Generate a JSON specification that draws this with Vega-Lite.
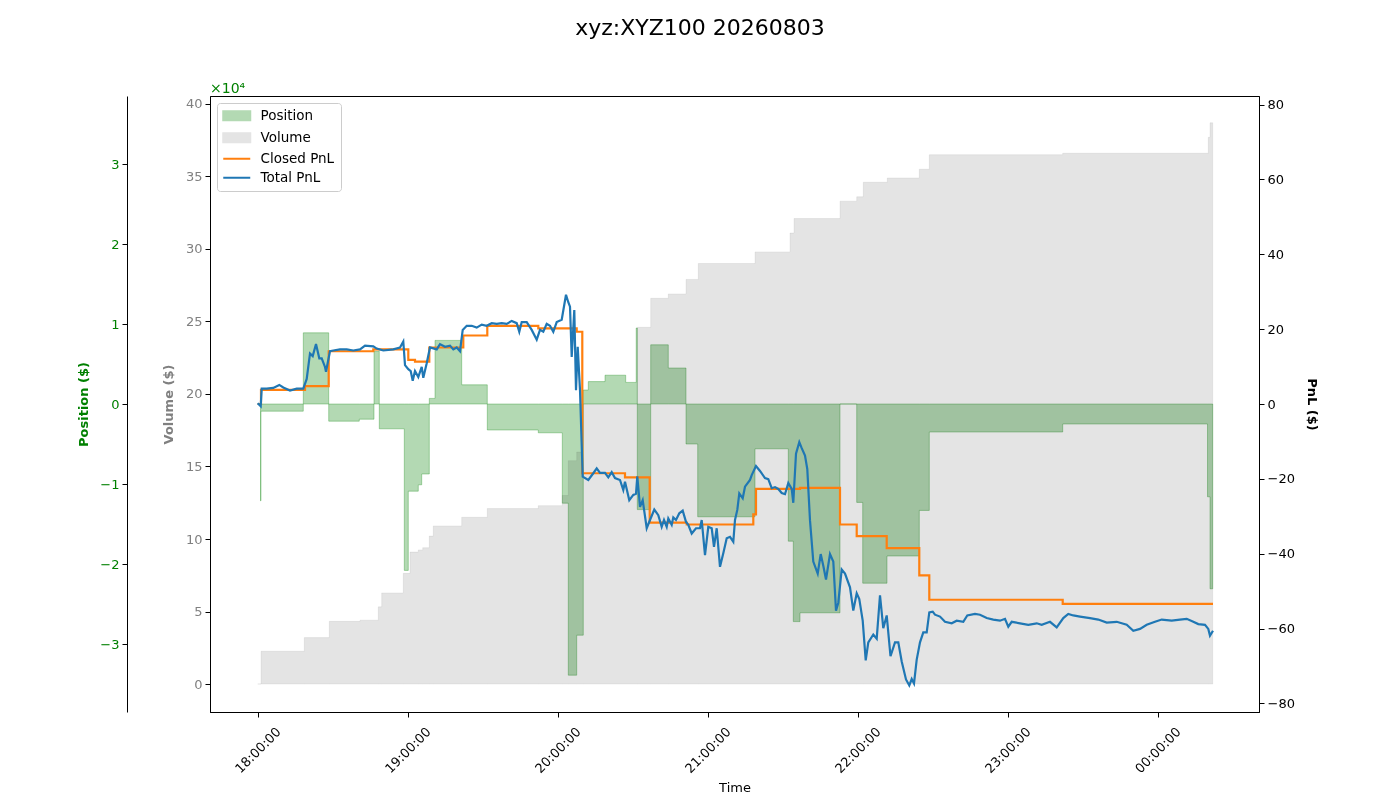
{
  "$schema": "https://vega.github.io/schema/vega-lite/v6.json",
  "width": 1049,
  "height": 616,
  "autosize": {"type": "none"},
  "padding": {"left": 210, "top": 96, "right": 141, "bottom": 88},
  "title": {"text": "xyz:XYZ100 20260803", "fontSize": 22, "font": "DejaVu Sans", "fontWeight": "normal", "anchor": "middle", "frame": "group", "offset": 25, "baseline": "alphabetic", "dx": -34.5, "color": "#000000"},
  "config": {
    "font": "DejaVu Sans",
    "view": {"stroke": "#000000", "strokeWidth": 1},
    "axis": {"grid": false, "domainColor": "#000000", "tickColor": "#000000", "tickSize": 5, "labelFontSize": 13, "titleFontSize": 13, "labelColor": "#000000", "titleColor": "#000000", "labelPadding": 3, "labelFont": "DejaVu Sans", "titleFont": "DejaVu Sans"}
  },
  "datasets": {
    "position": [
      {"time": "2026-08-03T18:00:00", "position": 0},
      {"time": "2026-08-03T18:01:07", "position": -12100},
      {"time": "2026-08-03T18:01:19", "position": -900},
      {"time": "2026-08-03T18:18:14", "position": 8900},
      {"time": "2026-08-03T18:28:24", "position": -2150},
      {"time": "2026-08-03T18:40:38", "position": -1900},
      {"time": "2026-08-03T18:46:31", "position": 6600},
      {"time": "2026-08-03T18:48:38", "position": -3100},
      {"time": "2026-08-03T18:58:38", "position": -20800},
      {"time": "2026-08-03T19:00:14", "position": -10900},
      {"time": "2026-08-03T19:04:14", "position": -10100},
      {"time": "2026-08-03T19:05:36", "position": -8750},
      {"time": "2026-08-03T19:08:38", "position": 700},
      {"time": "2026-08-03T19:10:55", "position": 7950},
      {"time": "2026-08-03T19:21:36", "position": 2400},
      {"time": "2026-08-03T19:31:50", "position": -3250},
      {"time": "2026-08-03T19:52:14", "position": -3600},
      {"time": "2026-08-03T20:01:50", "position": -12400},
      {"time": "2026-08-03T20:04:14", "position": -33900},
      {"time": "2026-08-03T20:07:36", "position": -28900},
      {"time": "2026-08-03T20:10:14", "position": 1750},
      {"time": "2026-08-03T20:12:14", "position": 2800},
      {"time": "2026-08-03T20:18:55", "position": 3600},
      {"time": "2026-08-03T20:27:12", "position": 2700},
      {"time": "2026-08-03T20:31:24", "position": 9500},
      {"time": "2026-08-03T20:31:50", "position": -13200},
      {"time": "2026-08-03T20:37:12", "position": 7400},
      {"time": "2026-08-03T20:44:14", "position": 4500},
      {"time": "2026-08-03T20:51:19", "position": -5000},
      {"time": "2026-08-03T20:56:00", "position": -14100},
      {"time": "2026-08-03T21:18:55", "position": -5600},
      {"time": "2026-08-03T21:32:14", "position": -17150},
      {"time": "2026-08-03T21:34:14", "position": -27200},
      {"time": "2026-08-03T21:36:55", "position": -26100},
      {"time": "2026-08-03T21:52:55", "position": 0},
      {"time": "2026-08-03T21:59:36", "position": -12300},
      {"time": "2026-08-03T22:02:00", "position": -22400},
      {"time": "2026-08-03T22:11:43", "position": -19000},
      {"time": "2026-08-03T22:24:38", "position": -13300},
      {"time": "2026-08-03T22:28:38", "position": -3500},
      {"time": "2026-08-03T23:22:00", "position": -2500},
      {"time": "2026-08-04T00:19:55", "position": -11600},
      {"time": "2026-08-04T00:20:55", "position": -23100},
      {"time": "2026-08-04T00:22:00", "position": -23100}
    ],
    "volume": [
      {"time": "2026-08-03T18:00:00", "volume": 0},
      {"time": "2026-08-03T18:01:19", "volume": 2.26},
      {"time": "2026-08-03T18:18:38", "volume": 3.2},
      {"time": "2026-08-03T18:28:38", "volume": 4.32},
      {"time": "2026-08-03T18:40:55", "volume": 4.4},
      {"time": "2026-08-03T18:48:14", "volume": 5.32},
      {"time": "2026-08-03T18:49:36", "volume": 6.28},
      {"time": "2026-08-03T18:58:14", "volume": 7.63},
      {"time": "2026-08-03T19:00:55", "volume": 9.1},
      {"time": "2026-08-03T19:04:14", "volume": 9.25},
      {"time": "2026-08-03T19:06:00", "volume": 9.4},
      {"time": "2026-08-03T19:08:38", "volume": 10.2},
      {"time": "2026-08-03T19:10:14", "volume": 10.9},
      {"time": "2026-08-03T19:21:36", "volume": 11.5},
      {"time": "2026-08-03T19:31:50", "volume": 12.1},
      {"time": "2026-08-03T19:52:14", "volume": 12.3},
      {"time": "2026-08-03T20:01:50", "volume": 13.0},
      {"time": "2026-08-03T20:04:14", "volume": 15.4},
      {"time": "2026-08-03T20:07:36", "volume": 16.0},
      {"time": "2026-08-03T20:10:14", "volume": 19.3},
      {"time": "2026-08-03T20:31:50", "volume": 24.6},
      {"time": "2026-08-03T20:37:12", "volume": 26.6},
      {"time": "2026-08-03T20:44:14", "volume": 26.9},
      {"time": "2026-08-03T20:51:19", "volume": 27.9},
      {"time": "2026-08-03T20:56:14", "volume": 29.0},
      {"time": "2026-08-03T21:18:55", "volume": 29.8},
      {"time": "2026-08-03T21:32:55", "volume": 31.1},
      {"time": "2026-08-03T21:34:31", "volume": 32.1},
      {"time": "2026-08-03T21:52:55", "volume": 33.3},
      {"time": "2026-08-03T21:59:36", "volume": 33.6},
      {"time": "2026-08-03T22:02:14", "volume": 34.6},
      {"time": "2026-08-03T22:11:50", "volume": 34.9},
      {"time": "2026-08-03T22:24:38", "volume": 35.5},
      {"time": "2026-08-03T22:28:38", "volume": 36.5},
      {"time": "2026-08-03T23:22:00", "volume": 36.6},
      {"time": "2026-08-04T00:20:14", "volume": 37.7},
      {"time": "2026-08-04T00:20:55", "volume": 38.7},
      {"time": "2026-08-04T00:22:00", "volume": 38.7}
    ],
    "closed": [
      {"time": "2026-08-03T18:00:00", "pnl": 0},
      {"time": "2026-08-03T18:01:19", "pnl": 3.8},
      {"time": "2026-08-03T18:18:55", "pnl": 4.8},
      {"time": "2026-08-03T18:28:24", "pnl": 14.1},
      {"time": "2026-08-03T18:46:14", "pnl": 14.6},
      {"time": "2026-08-03T19:00:14", "pnl": 11.8},
      {"time": "2026-08-03T19:02:55", "pnl": 11.3},
      {"time": "2026-08-03T19:08:38", "pnl": 15.1},
      {"time": "2026-08-03T19:22:14", "pnl": 18.3},
      {"time": "2026-08-03T19:31:50", "pnl": 20.9},
      {"time": "2026-08-03T19:52:14", "pnl": 20.2},
      {"time": "2026-08-03T20:07:36", "pnl": 19.3},
      {"time": "2026-08-03T20:09:50", "pnl": -18.5},
      {"time": "2026-08-03T20:26:55", "pnl": -19.6},
      {"time": "2026-08-03T20:36:48", "pnl": -31.7},
      {"time": "2026-08-03T20:51:36", "pnl": -32.2},
      {"time": "2026-08-03T21:18:14", "pnl": -29.5},
      {"time": "2026-08-03T21:19:19", "pnl": -22.7},
      {"time": "2026-08-03T21:36:55", "pnl": -22.4},
      {"time": "2026-08-03T21:52:55", "pnl": -32.2},
      {"time": "2026-08-03T21:59:36", "pnl": -35.3},
      {"time": "2026-08-03T22:11:36", "pnl": -38.5},
      {"time": "2026-08-03T22:24:38", "pnl": -45.8},
      {"time": "2026-08-03T22:28:38", "pnl": -52.3},
      {"time": "2026-08-03T23:22:00", "pnl": -53.4},
      {"time": "2026-08-04T00:22:07", "pnl": -53.4}
    ],
    "total": [
      {"time": "2026-08-03T18:00:00", "pnl": 0.2},
      {"time": "2026-08-03T18:01:12", "pnl": -0.6},
      {"time": "2026-08-03T18:01:36", "pnl": 4.1},
      {"time": "2026-08-03T18:03:36", "pnl": 4.1},
      {"time": "2026-08-03T18:06:14", "pnl": 4.3},
      {"time": "2026-08-03T18:08:38", "pnl": 5.1},
      {"time": "2026-08-03T18:10:14", "pnl": 4.4},
      {"time": "2026-08-03T18:12:55", "pnl": 3.6},
      {"time": "2026-08-03T18:15:36", "pnl": 4.1},
      {"time": "2026-08-03T18:18:14", "pnl": 4.1},
      {"time": "2026-08-03T18:19:36", "pnl": 6.7},
      {"time": "2026-08-03T18:20:55", "pnl": 13.5},
      {"time": "2026-08-03T18:22:00", "pnl": 12.8},
      {"time": "2026-08-03T18:23:19", "pnl": 16.0},
      {"time": "2026-08-03T18:24:38", "pnl": 12.2},
      {"time": "2026-08-03T18:25:36", "pnl": 12.2},
      {"time": "2026-08-03T18:26:55", "pnl": 9.9},
      {"time": "2026-08-03T18:27:19", "pnl": 8.6},
      {"time": "2026-08-03T18:27:50", "pnl": 10.4},
      {"time": "2026-08-03T18:28:55", "pnl": 14.1},
      {"time": "2026-08-03T18:30:14", "pnl": 14.3},
      {"time": "2026-08-03T18:32:55", "pnl": 14.6},
      {"time": "2026-08-03T18:35:36", "pnl": 14.6},
      {"time": "2026-08-03T18:38:14", "pnl": 14.3},
      {"time": "2026-08-03T18:40:55", "pnl": 14.6},
      {"time": "2026-08-03T18:42:55", "pnl": 15.6},
      {"time": "2026-08-03T18:46:14", "pnl": 15.4},
      {"time": "2026-08-03T18:47:36", "pnl": 14.8},
      {"time": "2026-08-03T18:50:14", "pnl": 14.3},
      {"time": "2026-08-03T18:54:14", "pnl": 14.6},
      {"time": "2026-08-03T18:56:55", "pnl": 15.1},
      {"time": "2026-08-03T18:58:14", "pnl": 16.7},
      {"time": "2026-08-03T18:58:55", "pnl": 10.4},
      {"time": "2026-08-03T19:00:14", "pnl": 9.3},
      {"time": "2026-08-03T19:01:12", "pnl": 8.8},
      {"time": "2026-08-03T19:02:00", "pnl": 6.2},
      {"time": "2026-08-03T19:02:55", "pnl": 8.8},
      {"time": "2026-08-03T19:04:14", "pnl": 7.2},
      {"time": "2026-08-03T19:05:36", "pnl": 9.9},
      {"time": "2026-08-03T19:06:14", "pnl": 7.0},
      {"time": "2026-08-03T19:07:36", "pnl": 10.9},
      {"time": "2026-08-03T19:08:55", "pnl": 15.1},
      {"time": "2026-08-03T19:11:36", "pnl": 14.6},
      {"time": "2026-08-03T19:12:55", "pnl": 16.0},
      {"time": "2026-08-03T19:14:55", "pnl": 15.3},
      {"time": "2026-08-03T19:16:55", "pnl": 15.6},
      {"time": "2026-08-03T19:18:14", "pnl": 14.6},
      {"time": "2026-08-03T19:19:36", "pnl": 15.1},
      {"time": "2026-08-03T19:20:55", "pnl": 14.1},
      {"time": "2026-08-03T19:22:00", "pnl": 19.8},
      {"time": "2026-08-03T19:23:36", "pnl": 20.9},
      {"time": "2026-08-03T19:25:36", "pnl": 20.9},
      {"time": "2026-08-03T19:27:36", "pnl": 20.4},
      {"time": "2026-08-03T19:29:36", "pnl": 21.2},
      {"time": "2026-08-03T19:31:36", "pnl": 20.9},
      {"time": "2026-08-03T19:33:36", "pnl": 21.6},
      {"time": "2026-08-03T19:35:36", "pnl": 21.4},
      {"time": "2026-08-03T19:37:36", "pnl": 21.6},
      {"time": "2026-08-03T19:39:36", "pnl": 21.4},
      {"time": "2026-08-03T19:41:36", "pnl": 22.2},
      {"time": "2026-08-03T19:43:36", "pnl": 21.6},
      {"time": "2026-08-03T19:44:38", "pnl": 19.3},
      {"time": "2026-08-03T19:45:36", "pnl": 21.9},
      {"time": "2026-08-03T19:47:36", "pnl": 21.9},
      {"time": "2026-08-03T19:49:36", "pnl": 19.8},
      {"time": "2026-08-03T19:51:36", "pnl": 17.2},
      {"time": "2026-08-03T19:52:55", "pnl": 19.8},
      {"time": "2026-08-03T19:54:14", "pnl": 19.3},
      {"time": "2026-08-03T19:55:36", "pnl": 21.4},
      {"time": "2026-08-03T19:56:55", "pnl": 20.9},
      {"time": "2026-08-03T19:58:14", "pnl": 19.3},
      {"time": "2026-08-03T19:59:36", "pnl": 21.9},
      {"time": "2026-08-03T20:01:36", "pnl": 22.5},
      {"time": "2026-08-03T20:03:19", "pnl": 29.2},
      {"time": "2026-08-03T20:04:14", "pnl": 27.2},
      {"time": "2026-08-03T20:04:55", "pnl": 26.0},
      {"time": "2026-08-03T20:05:36", "pnl": 12.6},
      {"time": "2026-08-03T20:06:38", "pnl": 25.1},
      {"time": "2026-08-03T20:07:19", "pnl": 3.7},
      {"time": "2026-08-03T20:08:00", "pnl": 15.3},
      {"time": "2026-08-03T20:08:55", "pnl": 3.7},
      {"time": "2026-08-03T20:10:00", "pnl": -19.4},
      {"time": "2026-08-03T20:12:14", "pnl": -20.3},
      {"time": "2026-08-03T20:14:14", "pnl": -18.5},
      {"time": "2026-08-03T20:15:36", "pnl": -17.2},
      {"time": "2026-08-03T20:16:55", "pnl": -18.4},
      {"time": "2026-08-03T20:18:55", "pnl": -18.4},
      {"time": "2026-08-03T20:20:14", "pnl": -19.6},
      {"time": "2026-08-03T20:21:36", "pnl": -18.2},
      {"time": "2026-08-03T20:22:55", "pnl": -19.8},
      {"time": "2026-08-03T20:24:55", "pnl": -20.3},
      {"time": "2026-08-03T20:26:14", "pnl": -23.0},
      {"time": "2026-08-03T20:26:55", "pnl": -20.8},
      {"time": "2026-08-03T20:28:38", "pnl": -25.7},
      {"time": "2026-08-03T20:30:14", "pnl": -24.3},
      {"time": "2026-08-03T20:31:19", "pnl": -24.0},
      {"time": "2026-08-03T20:31:50", "pnl": -19.3},
      {"time": "2026-08-03T20:32:55", "pnl": -27.5},
      {"time": "2026-08-03T20:34:00", "pnl": -25.7},
      {"time": "2026-08-03T20:35:36", "pnl": -33.2},
      {"time": "2026-08-03T20:36:55", "pnl": -31.0},
      {"time": "2026-08-03T20:38:38", "pnl": -28.2},
      {"time": "2026-08-03T20:40:14", "pnl": -29.7},
      {"time": "2026-08-03T20:41:36", "pnl": -32.8},
      {"time": "2026-08-03T20:42:31", "pnl": -31.0},
      {"time": "2026-08-03T20:43:36", "pnl": -32.8},
      {"time": "2026-08-03T20:44:14", "pnl": -30.6},
      {"time": "2026-08-03T20:45:36", "pnl": -32.3},
      {"time": "2026-08-03T20:46:14", "pnl": -30.3},
      {"time": "2026-08-03T20:47:19", "pnl": -31.0},
      {"time": "2026-08-03T20:48:38", "pnl": -29.2},
      {"time": "2026-08-03T20:50:00", "pnl": -28.5},
      {"time": "2026-08-03T20:51:19", "pnl": -31.5},
      {"time": "2026-08-03T20:52:14", "pnl": -32.3},
      {"time": "2026-08-03T20:53:36", "pnl": -34.6},
      {"time": "2026-08-03T20:55:19", "pnl": -33.2},
      {"time": "2026-08-03T20:56:55", "pnl": -33.2},
      {"time": "2026-08-03T20:57:36", "pnl": -31.0},
      {"time": "2026-08-03T20:58:55", "pnl": -40.4},
      {"time": "2026-08-03T21:00:14", "pnl": -32.8},
      {"time": "2026-08-03T21:01:36", "pnl": -33.2},
      {"time": "2026-08-03T21:02:31", "pnl": -38.2},
      {"time": "2026-08-03T21:03:36", "pnl": -33.2},
      {"time": "2026-08-03T21:04:55", "pnl": -43.5},
      {"time": "2026-08-03T21:06:14", "pnl": -39.9},
      {"time": "2026-08-03T21:07:36", "pnl": -35.9},
      {"time": "2026-08-03T21:08:55", "pnl": -35.5},
      {"time": "2026-08-03T21:10:14", "pnl": -36.8},
      {"time": "2026-08-03T21:10:55", "pnl": -31.0},
      {"time": "2026-08-03T21:11:50", "pnl": -28.3},
      {"time": "2026-08-03T21:12:38", "pnl": -23.9},
      {"time": "2026-08-03T21:14:00", "pnl": -25.2},
      {"time": "2026-08-03T21:14:55", "pnl": -22.1},
      {"time": "2026-08-03T21:16:55", "pnl": -20.3},
      {"time": "2026-08-03T21:17:36", "pnl": -19.0},
      {"time": "2026-08-03T21:19:19", "pnl": -16.6},
      {"time": "2026-08-03T21:20:55", "pnl": -17.9},
      {"time": "2026-08-03T21:22:55", "pnl": -19.8},
      {"time": "2026-08-03T21:24:14", "pnl": -20.1},
      {"time": "2026-08-03T21:25:36", "pnl": -22.5},
      {"time": "2026-08-03T21:26:55", "pnl": -22.2},
      {"time": "2026-08-03T21:28:14", "pnl": -22.7},
      {"time": "2026-08-03T21:29:36", "pnl": -23.8},
      {"time": "2026-08-03T21:30:55", "pnl": -24.1},
      {"time": "2026-08-03T21:32:14", "pnl": -21.1},
      {"time": "2026-08-03T21:33:36", "pnl": -22.7},
      {"time": "2026-08-03T21:34:14", "pnl": -26.4},
      {"time": "2026-08-03T21:35:19", "pnl": -13.3},
      {"time": "2026-08-03T21:36:38", "pnl": -10.2},
      {"time": "2026-08-03T21:37:36", "pnl": -11.8},
      {"time": "2026-08-03T21:38:55", "pnl": -13.8},
      {"time": "2026-08-03T21:39:50", "pnl": -17.4},
      {"time": "2026-08-03T21:40:55", "pnl": -31.1},
      {"time": "2026-08-03T21:42:14", "pnl": -42.1},
      {"time": "2026-08-03T21:44:00", "pnl": -45.3},
      {"time": "2026-08-03T21:45:12", "pnl": -40.1},
      {"time": "2026-08-03T21:46:14", "pnl": -43.2},
      {"time": "2026-08-03T21:47:19", "pnl": -46.9},
      {"time": "2026-08-03T21:48:55", "pnl": -40.1},
      {"time": "2026-08-03T21:50:14", "pnl": -42.1},
      {"time": "2026-08-03T21:51:19", "pnl": -55.2},
      {"time": "2026-08-03T21:52:14", "pnl": -53.1},
      {"time": "2026-08-03T21:53:36", "pnl": -44.2},
      {"time": "2026-08-03T21:54:55", "pnl": -45.3},
      {"time": "2026-08-03T21:56:55", "pnl": -49.0},
      {"time": "2026-08-03T21:58:14", "pnl": -55.2},
      {"time": "2026-08-03T21:59:36", "pnl": -50.6},
      {"time": "2026-08-03T22:00:38", "pnl": -52.1},
      {"time": "2026-08-03T22:02:00", "pnl": -57.9},
      {"time": "2026-08-03T22:03:12", "pnl": -68.5},
      {"time": "2026-08-03T22:04:14", "pnl": -63.7},
      {"time": "2026-08-03T22:06:14", "pnl": -61.6},
      {"time": "2026-08-03T22:07:36", "pnl": -62.7},
      {"time": "2026-08-03T22:08:55", "pnl": -51.1},
      {"time": "2026-08-03T22:10:14", "pnl": -59.9},
      {"time": "2026-08-03T22:11:36", "pnl": -56.5},
      {"time": "2026-08-03T22:13:07", "pnl": -67.4},
      {"time": "2026-08-03T22:14:55", "pnl": -63.7},
      {"time": "2026-08-03T22:16:14", "pnl": -63.7},
      {"time": "2026-08-03T22:17:36", "pnl": -68.8},
      {"time": "2026-08-03T22:19:19", "pnl": -73.6},
      {"time": "2026-08-03T22:20:38", "pnl": -75.2},
      {"time": "2026-08-03T22:21:36", "pnl": -73.5},
      {"time": "2026-08-03T22:22:31", "pnl": -74.7},
      {"time": "2026-08-03T22:23:36", "pnl": -68.3},
      {"time": "2026-08-03T22:24:55", "pnl": -63.7},
      {"time": "2026-08-03T22:26:14", "pnl": -61.0},
      {"time": "2026-08-03T22:27:36", "pnl": -61.0},
      {"time": "2026-08-03T22:28:38", "pnl": -55.7},
      {"time": "2026-08-03T22:30:00", "pnl": -55.5},
      {"time": "2026-08-03T22:30:55", "pnl": -56.3},
      {"time": "2026-08-03T22:32:55", "pnl": -56.8},
      {"time": "2026-08-03T22:34:55", "pnl": -58.2},
      {"time": "2026-08-03T22:37:36", "pnl": -58.6},
      {"time": "2026-08-03T22:39:36", "pnl": -57.9},
      {"time": "2026-08-03T22:42:14", "pnl": -58.2},
      {"time": "2026-08-03T22:43:50", "pnl": -56.5},
      {"time": "2026-08-03T22:46:55", "pnl": -56.1},
      {"time": "2026-08-03T22:48:55", "pnl": -56.3},
      {"time": "2026-08-03T22:51:36", "pnl": -57.2},
      {"time": "2026-08-03T22:54:14", "pnl": -57.6},
      {"time": "2026-08-03T22:56:55", "pnl": -57.9},
      {"time": "2026-08-03T22:58:55", "pnl": -57.4},
      {"time": "2026-08-03T23:00:14", "pnl": -59.5},
      {"time": "2026-08-03T23:01:36", "pnl": -58.2},
      {"time": "2026-08-03T23:04:55", "pnl": -58.6},
      {"time": "2026-08-03T23:08:14", "pnl": -59.0},
      {"time": "2026-08-03T23:11:36", "pnl": -58.6},
      {"time": "2026-08-03T23:13:36", "pnl": -59.0},
      {"time": "2026-08-03T23:16:55", "pnl": -58.2},
      {"time": "2026-08-03T23:19:36", "pnl": -59.7},
      {"time": "2026-08-03T23:22:14", "pnl": -57.2},
      {"time": "2026-08-03T23:24:14", "pnl": -56.1},
      {"time": "2026-08-03T23:26:14", "pnl": -56.5},
      {"time": "2026-08-03T23:28:55", "pnl": -56.8},
      {"time": "2026-08-03T23:32:55", "pnl": -57.2},
      {"time": "2026-08-03T23:36:14", "pnl": -57.6},
      {"time": "2026-08-03T23:39:36", "pnl": -58.4},
      {"time": "2026-08-03T23:43:36", "pnl": -58.2},
      {"time": "2026-08-03T23:47:36", "pnl": -59.0},
      {"time": "2026-08-03T23:50:14", "pnl": -60.6},
      {"time": "2026-08-03T23:52:55", "pnl": -60.1},
      {"time": "2026-08-03T23:55:36", "pnl": -59.0},
      {"time": "2026-08-03T23:58:55", "pnl": -58.2},
      {"time": "2026-08-04T00:01:36", "pnl": -57.6},
      {"time": "2026-08-04T00:05:36", "pnl": -57.9},
      {"time": "2026-08-04T00:08:55", "pnl": -57.6},
      {"time": "2026-08-04T00:11:36", "pnl": -57.4},
      {"time": "2026-08-04T00:14:14", "pnl": -58.2},
      {"time": "2026-08-04T00:16:14", "pnl": -58.8},
      {"time": "2026-08-04T00:18:55", "pnl": -59.0},
      {"time": "2026-08-04T00:20:14", "pnl": -60.1},
      {"time": "2026-08-04T00:20:55", "pnl": -61.9},
      {"time": "2026-08-04T00:22:07", "pnl": -60.6}
    ],
    "offsetLabel": [
      {"time": "2026-08-03T17:40:55", "position": 38900, "label": "×10⁴"}
    ]
  },
  "layer": [
    {
      "data": {"name": "volume"},
      "mark": {"type": "area", "interpolate": "step-after", "fillOpacity": 1, "stroke": "#808080", "strokeOpacity": 0.12, "strokeWidth": 1},
      "encoding": {
        "x": {
          "field": "time", "type": "temporal",
          "scale": {"domain": [{"year": 2026, "month": 8, "date": 3, "hours": 17, "minutes": 40, "seconds": 55}, {"year": 2026, "month": 8, "date": 4, "hours": 0, "minutes": 40, "seconds": 31}]},
          "axis": {
            "title": "Time", "titleFontWeight": "normal", "titlePadding": 6,
            "format": "%H:%M:%S", "labelAngle": -45, "labelAlign": "center", "labelBaseline": "middle", "labelPadding": 33,
            "labelFlush": false, "labelOverlap": false,
            "values": [
              {"year": 2026, "month": 8, "date": 3, "hours": 18},
              {"year": 2026, "month": 8, "date": 3, "hours": 19},
              {"year": 2026, "month": 8, "date": 3, "hours": 20},
              {"year": 2026, "month": 8, "date": 3, "hours": 21},
              {"year": 2026, "month": 8, "date": 3, "hours": 22},
              {"year": 2026, "month": 8, "date": 3, "hours": 23},
              {"year": 2026, "month": 8, "date": 4, "hours": 0}
            ]
          }
        },
        "y": {
          "field": "volume", "type": "quantitative",
          "scale": {"domain": [-1.93, 40.55]},
          "axis": {
            "orient": "left", "title": "Volume ($)", "titleColor": "#808080", "titleFontWeight": "bold", "titlePadding": 10,
            "labelColor": "#808080", "values": [0, 5, 10, 15, 20, 25, 30, 35, 40]
          }
        },
        "y2": {"datum": 0},
        "color": {
          "datum": "Volume", "type": "nominal",
          "scale": {"domain": ["Position", "Volume", "Closed PnL", "Total PnL"], "range": ["#b3d9b3", "#e4e4e4", "#ff7f0e", "#1f77b4"]},
          "legend": {
            "title": null, "orient": "top-left", "offset": 7, "padding": 6,
            "fillColor": "rgba(255,255,255,0.8)", "strokeColor": "#cccccc", "cornerRadius": 3,
            "labelFontSize": 13.5, "labelColor": "#000000", "labelOffset": 17, "rowPadding": 4,
            "symbolSize": 100, "symbolStrokeWidth": 2, "symbolOffset": 7, "symbolOpacity": 1,
            "symbolType": {"expr": "datum.value === 'Position' || datum.value === 'Volume' ? 'M-2.7,-0.9H2.7V0.9H-2.7Z' : 'M-2.7,0H2.7'"}
          }
        }
      }
    },
    {
      "data": {"name": "position"},
      "mark": {"type": "area", "interpolate": "step-after", "fillOpacity": 1, "blend": "multiply", "stroke": "#008000", "strokeOpacity": 0.3, "strokeWidth": 1},
      "encoding": {
        "x": {"field": "time", "type": "temporal"},
        "y": {
          "field": "position", "type": "quantitative",
          "scale": {"domain": [-38500, 38500]},
          "axis": {
            "orient": "left", "offset": 83, "title": "Position ($)", "titleColor": "#008000", "titleFontWeight": "bold", "titlePadding": 9,
            "labelColor": "#008000", "values": [-30000, -20000, -10000, 0, 10000, 20000, 30000],
            "labelExpr": "replace(format(datum.value / 10000, 'd'), '-', '−')"
          }
        },
        "y2": {"datum": 0},
        "color": {"datum": "Position", "type": "nominal"}
      }
    },
    {
      "data": {"name": "closed"},
      "mark": {"type": "line", "interpolate": "step-after", "strokeWidth": 2.2},
      "encoding": {
        "x": {"field": "time", "type": "temporal"},
        "y": {
          "field": "pnl", "type": "quantitative",
          "scale": {"domain": [-82.3, 82.3]},
          "axis": {
            "orient": "right", "title": "PnL ($)", "titleFontWeight": "bold", "titlePadding": 10,
            "values": [-80, -60, -40, -20, 0, 20, 40, 60, 80],
            "labelExpr": "replace(format(datum.value, 'd'), '-', '−')"
          }
        },
        "color": {"datum": "Closed PnL", "type": "nominal"}
      }
    },
    {
      "data": {"name": "total"},
      "mark": {"type": "line", "strokeWidth": 2.2},
      "encoding": {
        "x": {"field": "time", "type": "temporal"},
        "y": {"field": "pnl", "type": "quantitative", "scale": {"domain": [-82.3, 82.3]}, "axis": null},
        "color": {"datum": "Total PnL", "type": "nominal"}
      }
    },
    {
      "data": {"name": "offsetLabel"},
      "mark": {"type": "text", "align": "left", "baseline": "alphabetic", "fontSize": 14, "color": "#008000", "clip": false},
      "encoding": {
        "x": {"field": "time", "type": "temporal"},
        "y": {"field": "position", "type": "quantitative", "scale": {"domain": [-38500, 38500]}, "axis": null},
        "text": {"field": "label"}
      }
    }
  ],
  "resolve": {"scale": {"y": "independent"}, "axis": {"y": "independent"}}
}
